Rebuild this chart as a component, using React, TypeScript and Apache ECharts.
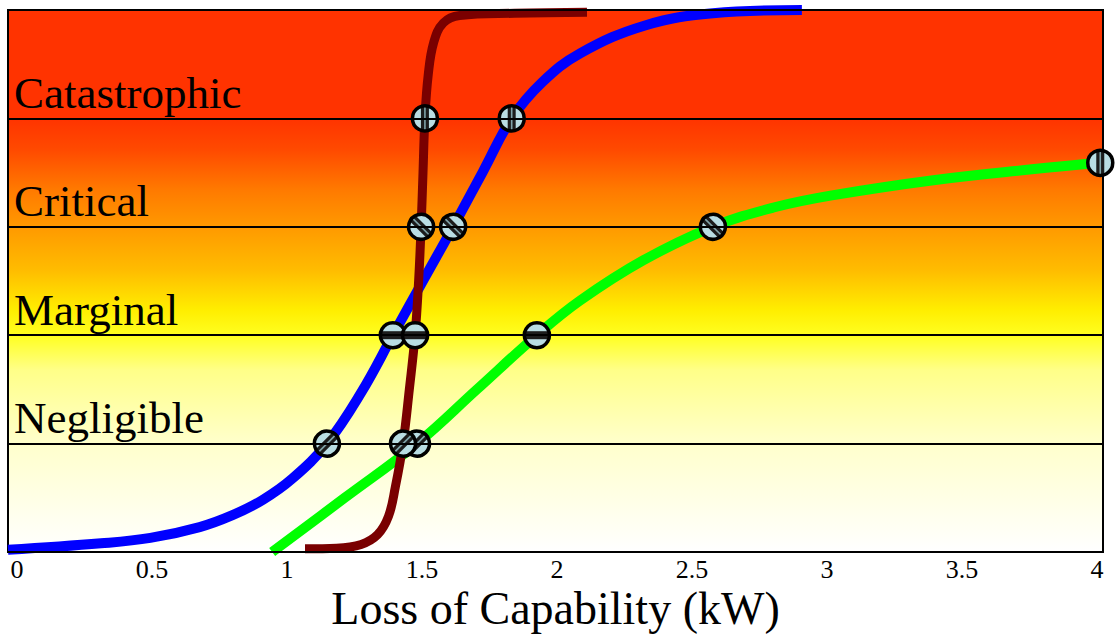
import { useEffect, useRef } from 'react';
import * as echarts from 'echarts';

// Band names for severity levels 1..4
const bandNames = ['Negligible', 'Marginal', 'Critical', 'Catastrophic'];
// Stripe angle (deg) inside the markers, per band level 1..4
const stripeAngles = [-45, 90, 45, 0];

const xTickMin = 0;
const xTickMax = 4;
const xTickStep = 0.5;

const blueCurve = [
  [0, 0.02], [0.34, 0.08], [0.52, 0.13], [0.7, 0.23], [0.82, 0.34], [0.93, 0.48],
  [1.04, 0.68], [1.165, 1.0], [1.29, 1.47], [1.406, 2.0], [1.52, 2.52], [1.626, 3.0],
  [1.735, 3.51], [1.84, 4.0], [1.95, 4.33], [2.09, 4.6], [2.33, 4.86], [2.575, 4.97],
  [2.9, 5.0],
];

const greenCurve = [
  [0.965, 0], [1.23, 0.5], [1.494, 1.0], [1.713, 1.5], [1.932, 2.0], [2.09, 2.32],
  [2.32, 2.69], [2.575, 3.0], [2.8, 3.18], [3.01, 3.29], [3.38, 3.43], [3.74, 3.53],
  [3.99, 3.59],
];

const maroonCurve = [
  [1.085, 0.03], [1.2, 0.035], [1.29, 0.07], [1.35, 0.16], [1.39, 0.33], [1.415, 0.6],
  [1.443, 1.0], [1.466, 1.5], [1.487, 2.0], [1.5, 2.5], [1.509, 3.0], [1.516, 3.5],
  [1.523, 4.0], [1.535, 4.4], [1.555, 4.7], [1.59, 4.88], [1.65, 4.95], [1.85, 4.97],
  [2.115, 4.98],
];

const blueMarks = [[1.165, 1], [1.406, 2], [1.626, 3], [1.84, 4]];
const greenMarks = [[1.494, 1], [1.932, 2], [2.575, 3], [3.99, 3.59]];
const maroonMarks = [[1.443, 1], [1.487, 2], [1.509, 3], [1.523, 4]];

const FONT = "'Liberation Serif', 'Times New Roman', 'DejaVu Serif', serif";

function renderMark(_params: any, api: any) {
  const xv = api.value(0);
  const yv = api.value(1);
  const [cx, cy] = api.coord([xv, yv]);
  const lvl = Math.round(yv);
  const deg = Math.abs(yv - lvl) < 1e-6 && lvl >= 1 && lvl <= 4 ? stripeAngles[lvl - 1] : 0;
  return {
    type: 'group',
    x: cx,
    y: cy,
    rotation: (deg * Math.PI) / 180,
    children: [
      { type: 'circle', shape: { cx: 0, cy: 0, r: 12.5 }, style: { fill: '#b9dde3', stroke: 'none' } },
      { type: 'rect', shape: { x: -4, y: -12, width: 8, height: 24 }, style: { fill: '#1c1c1c' } },
      { type: 'rect', shape: { x: -0.8, y: -12, width: 1.6, height: 24 }, style: { fill: '#7fa3a9' } },
      { type: 'circle', shape: { cx: 0, cy: 0, r: 12.5 }, style: { fill: 'none', stroke: '#000', lineWidth: 3.5 } },
    ],
  };
}

export default function App() {
  const ref = useRef<HTMLDivElement>(null);
  useEffect(() => {
    if (!ref.current) return;
    const chart = echarts.init(ref.current, null, { renderer: 'svg' });
    const lineSeries = (data: number[][], color: string, width: number) => ({
      type: 'line',
      data,
      xAxisIndex: 0,
      yAxisIndex: 0,
      smooth: 0.4,
      showSymbol: false,
      symbol: 'none',
      lineStyle: { color, width, cap: 'butt' },
      z: 3,
    });
    const markSeries = (data: number[][]) => ({
      type: 'custom',
      coordinateSystem: 'cartesian2d',
      xAxisIndex: 0,
      yAxisIndex: 0,
      renderItem: renderMark,
      encode: { x: 0, y: 1 },
      data,
      clip: false,
      z: 5,
    });
    chart.setOption({
      animation: false,
      grid: [
        {
          left: 8, right: 14, top: 10, bottom: 87,
          show: true,
          borderColor: '#000',
          borderWidth: 2,
          outerBoundsMode: 'none',
          backgroundColor: new echarts.graphic.LinearGradient(0, 0, 0, 1, [
            { offset: 0, color: '#FF3300' },
            { offset: 0.199, color: '#FF3300' },
            { offset: 0.258, color: '#FF4A00' },
            { offset: 0.332, color: '#FF7A00' },
            { offset: 0.402, color: '#FF9A00' },
            { offset: 0.48, color: '#FFBC00' },
            { offset: 0.554, color: '#FFEE00' },
            { offset: 0.602, color: '#FFFF22' },
            { offset: 0.664, color: '#FFFF88' },
            { offset: 0.8, color: '#FFFFCC' },
            { offset: 1, color: '#FFFFFF' },
          ]),
        },
        { left: 17, right: 20, top: 10, bottom: 87, show: false, outerBoundsMode: 'none' },
      ],
      xAxis: [
        {
          gridIndex: 0,
          type: 'value',
          min: xTickMin,
          max: xTickMax,
          interval: xTickStep,
          axisLine: { show: false },
          axisTick: { show: false },
          axisLabel: { show: false },
          splitLine: { show: false },
          name: 'Loss of Capability (kW)',
          nameLocation: 'middle',
          nameGap: 33,
          nameTextStyle: { fontFamily: FONT, fontSize: 46, color: '#000' },
        },
        {
          gridIndex: 1,
          type: 'value',
          min: xTickMin,
          max: xTickMax,
          interval: xTickStep,
          axisLine: { show: false },
          axisTick: { show: false },
          splitLine: { show: false },
          axisLabel: { fontFamily: FONT, fontSize: 26, color: '#000', margin: 4 },
        },
      ],
      yAxis: [
        {
          gridIndex: 0,
          type: 'value',
          min: 0,
          max: 5,
          interval: 1,
          axisLine: { show: false },
          axisTick: { show: false },
          splitLine: { show: true, lineStyle: { color: '#000', width: 2 } },
          axisLabel: {
            inside: true,
            margin: 6,
            verticalAlign: 'bottom',
            padding: [0, 0, 3, 0],
            fontFamily: FONT,
            fontSize: 45,
            color: '#000',
            formatter: (v: number) => (v >= 1 && v <= 4 ? bandNames[v - 1] : ''),
          },
          z: 10,
        },
        { gridIndex: 1, type: 'value', min: 0, max: 5, show: false },
      ],
      series: [
        lineSeries(greenCurve, '#00FF00', 10),
        lineSeries(blueCurve, '#0000FF', 10),
        lineSeries(maroonCurve, '#7A0000', 9),
        markSeries(blueMarks),
        markSeries(greenMarks),
        markSeries(maroonMarks),
      ],
    });
    return () => chart.dispose();
  }, []);
  return (
    <div
      ref={ref}
      style={{ position: 'fixed', left: 0, top: 0, width: 1117, height: 639, background: '#fff' }}
    />
  );
}
